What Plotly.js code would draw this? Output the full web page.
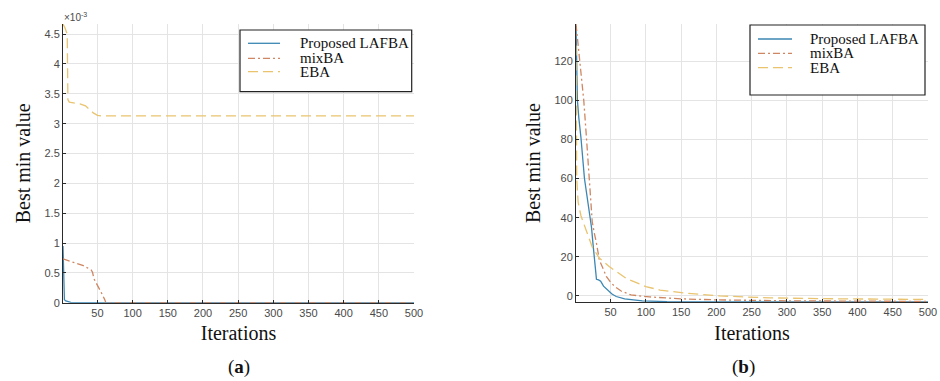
<!DOCTYPE html>
<html>
<head>
<meta charset="utf-8">
<script src="https://cdn.plot.ly/plotly-3.0.1.min.js"></script>
<style>html,body{margin:0;padding:0;background:#fff}#chart{width:940px;height:381px}</style>
</head>
<body>
<div id="chart"></div>
<script>
// ---- Data ----
const seriesNames = ['Proposed LAFBA', 'mixBA', 'EBA'];

// Panel (a): values in units of 1e-3
const a_lafba_x = [1, 2, 3, 5, 8, 12, 20, 500];
const a_lafba_y = [0.95, 0.25, 0.05, 0.03, 0.02, 0.005, 0, 0];
const a_mix_x = [1, 10, 20, 30, 41, 43, 45, 50, 55, 60, 62, 500];
const a_mix_y = [0.735, 0.70, 0.66, 0.62, 0.55, 0.51, 0.40, 0.30, 0.18, 0.06, 0, 0];
const a_eba_x = [1, 4, 7, 8, 10, 25, 33, 38, 44, 50, 56, 500];
const a_eba_y = [4.67, 4.6, 4.5, 3.4, 3.36, 3.33, 3.3, 3.25, 3.18, 3.14, 3.13, 3.13];

// Panel (b)
const b_lafba_x = [1, 2, 3, 5, 8, 13, 17, 21, 23, 25, 27, 29, 30, 33, 36, 40, 46, 52, 58, 70, 95, 130, 200, 500];
const b_lafba_y = [138, 118, 100, 91, 81, 60, 50, 40, 35, 27, 18, 10, 8.5, 8.2, 7.5, 5, 3, 1, -0.3, -1.5, -2.5, -2.9, -3, -3];
const b_mix_x = [1, 6, 12, 16, 20, 22, 24, 27, 30, 34, 40, 44, 50, 56, 65, 79, 105, 150, 200, 300, 500];
const b_mix_y = [139, 120, 100, 80, 60, 45, 38, 32, 27, 18.5, 13, 10, 7, 4.8, 2.5, 0.5, -0.5, -1.5, -2, -2.5, -2.8];
const b_eba_x = [1, 2, 4, 8, 15, 24, 34, 48, 72, 100, 120, 157, 205, 276, 350, 500];
const b_eba_y = [128, 60, 48, 41, 34, 25, 19.4, 15, 9, 4.8, 3, 1.4, 0, -1, -1.4, -1.8];

const xTicks = [50, 100, 150, 200, 250, 300, 350, 400, 450, 500];
const aYTicks = [0, 0.5, 1, 1.5, 2, 2.5, 3, 3.5, 4, 4.5];
const bYTicks = [0, 20, 40, 60, 80, 100, 120];

// ---- Styles ----
const colors = ['#3b86b3', '#cf8763', '#e9c36e'];
const dashes = ['solid', '7px,3px,2px,3px', '10px,5px'];
const serif = 'Liberation Serif, Times New Roman, serif';
const sans = 'Liberation Sans, Arial, sans-serif';

function tr(x, y, i, xa, ya) {
  return {x: x, y: y, name: seriesNames[i], type: 'scatter', mode: 'lines',
    xaxis: xa, yaxis: ya, showlegend: false,
    line: {color: colors[i], width: 1.3, dash: dashes[i]}};
}

const data = [
  tr(a_lafba_x, a_lafba_y, 0, 'x', 'y'),
  tr(a_mix_x, a_mix_y, 1, 'x', 'y'),
  tr(a_eba_x, a_eba_y, 2, 'x', 'y'),
  tr(b_lafba_x, b_lafba_y, 0, 'x2', 'y2'),
  tr(b_mix_x, b_mix_y, 1, 'x2', 'y2'),
  tr(b_eba_x, b_eba_y, 2, 'x2', 'y2')
];

const W = 940, H = 381;
const px = v => v / W, py = v => 1 - v / H;

const axCommon = {
  showgrid: true, gridcolor: '#e4e4e4', gridwidth: 1,
  showline: true, linecolor: '#2b2b2b', linewidth: 1,
  ticks: 'inside', ticklen: 3, tickcolor: '#2b2b2b',
  zeroline: false, mirror: false,
  tickfont: {family: sans, size: 11, color: '#4a4a4a'}
};
const titleFont = {family: serif, size: 20, color: '#111'};

const shapes = [], annotations = [];
// Legend boxes + entries (drawn as shapes and text)
const legends = [
  {box: [240, 30, 411.7, 91.7], lx0: 248, lx1: 280, tx: 298, rows: [43.3, 58.3, 71.7]},
  {box: [750, 25, 925, 95], lx0: 758, lx1: 792, tx: 808, rows: [39, 53.3, 67.7]}
];
legends.forEach(L => {
  shapes.push({type: 'rect', xref: 'paper', yref: 'paper', x0: px(L.box[0]), x1: px(L.box[2]),
    y0: py(L.box[3]), y1: py(L.box[1]), line: {color: '#222', width: 1.2}, fillcolor: '#fff', layer: 'above'});
  seriesNames.forEach((nm, i) => {
    shapes.push({type: 'line', xref: 'paper', yref: 'paper', x0: px(L.lx0), x1: px(L.lx1),
      y0: py(L.rows[i]), y1: py(L.rows[i]), line: {color: colors[i], width: 1.3, dash: dashes[i]}, layer: 'above'});
    annotations.push({text: nm, xref: 'paper', yref: 'paper', x: px(L.tx), y: py(L.rows[i]),
      xanchor: 'left', yanchor: 'middle', showarrow: false, font: {family: serif, size: 15, color: '#111'}});
  });
});

annotations.push(
  {text: '×10<sup>-3</sup>', xref: 'paper', yref: 'paper', x: px(62), y: py(17), xanchor: 'left', yanchor: 'middle',
    showarrow: false, font: {family: sans, size: 10, color: '#4a4a4a'}},
  {text: '(<b>a</b>)', xref: 'paper', yref: 'paper', x: px(239), y: py(367), xanchor: 'center', yanchor: 'middle',
    showarrow: false, font: {family: serif, size: 19, color: '#111'}},
  {text: '(<b>b</b>)', xref: 'paper', yref: 'paper', x: px(743), y: py(367), xanchor: 'center', yanchor: 'middle',
    showarrow: false, font: {family: serif, size: 19, color: '#111'}}
);

const layout = {
  width: W, height: H,
  margin: {l: 0, r: 0, t: 0, b: 0},
  paper_bgcolor: '#fff', plot_bgcolor: '#fff',
  showlegend: false,
  xaxis: Object.assign({}, axCommon, {
    domain: [px(63), px(414)], range: [1, 500], tickvals: xTicks, anchor: 'y',
    title: {text: 'Iterations', font: titleFont, standoff: 8}
  }),
  yaxis: Object.assign({}, axCommon, {
    domain: [py(302.7), py(24)], range: [0, 4.67], tickvals: aYTicks, anchor: 'x',
    title: {text: 'Best min value', font: titleFont, standoff: 8}
  }),
  xaxis2: Object.assign({}, axCommon, {
    domain: [px(576), px(928)], range: [1, 500], tickvals: xTicks, anchor: 'y2',
    title: {text: 'Iterations', font: titleFont, standoff: 8}
  }),
  yaxis2: Object.assign({}, axCommon, {
    domain: [py(302), py(24)], range: [-3.1, 139], tickvals: bYTicks, anchor: 'x2',
    title: {text: 'Best min value', font: titleFont, standoff: 8}
  }),
  shapes: shapes,
  annotations: annotations
};

Plotly.newPlot('chart', data, layout, {displayModeBar: false, staticPlot: true});
</script>
</body>
</html>
